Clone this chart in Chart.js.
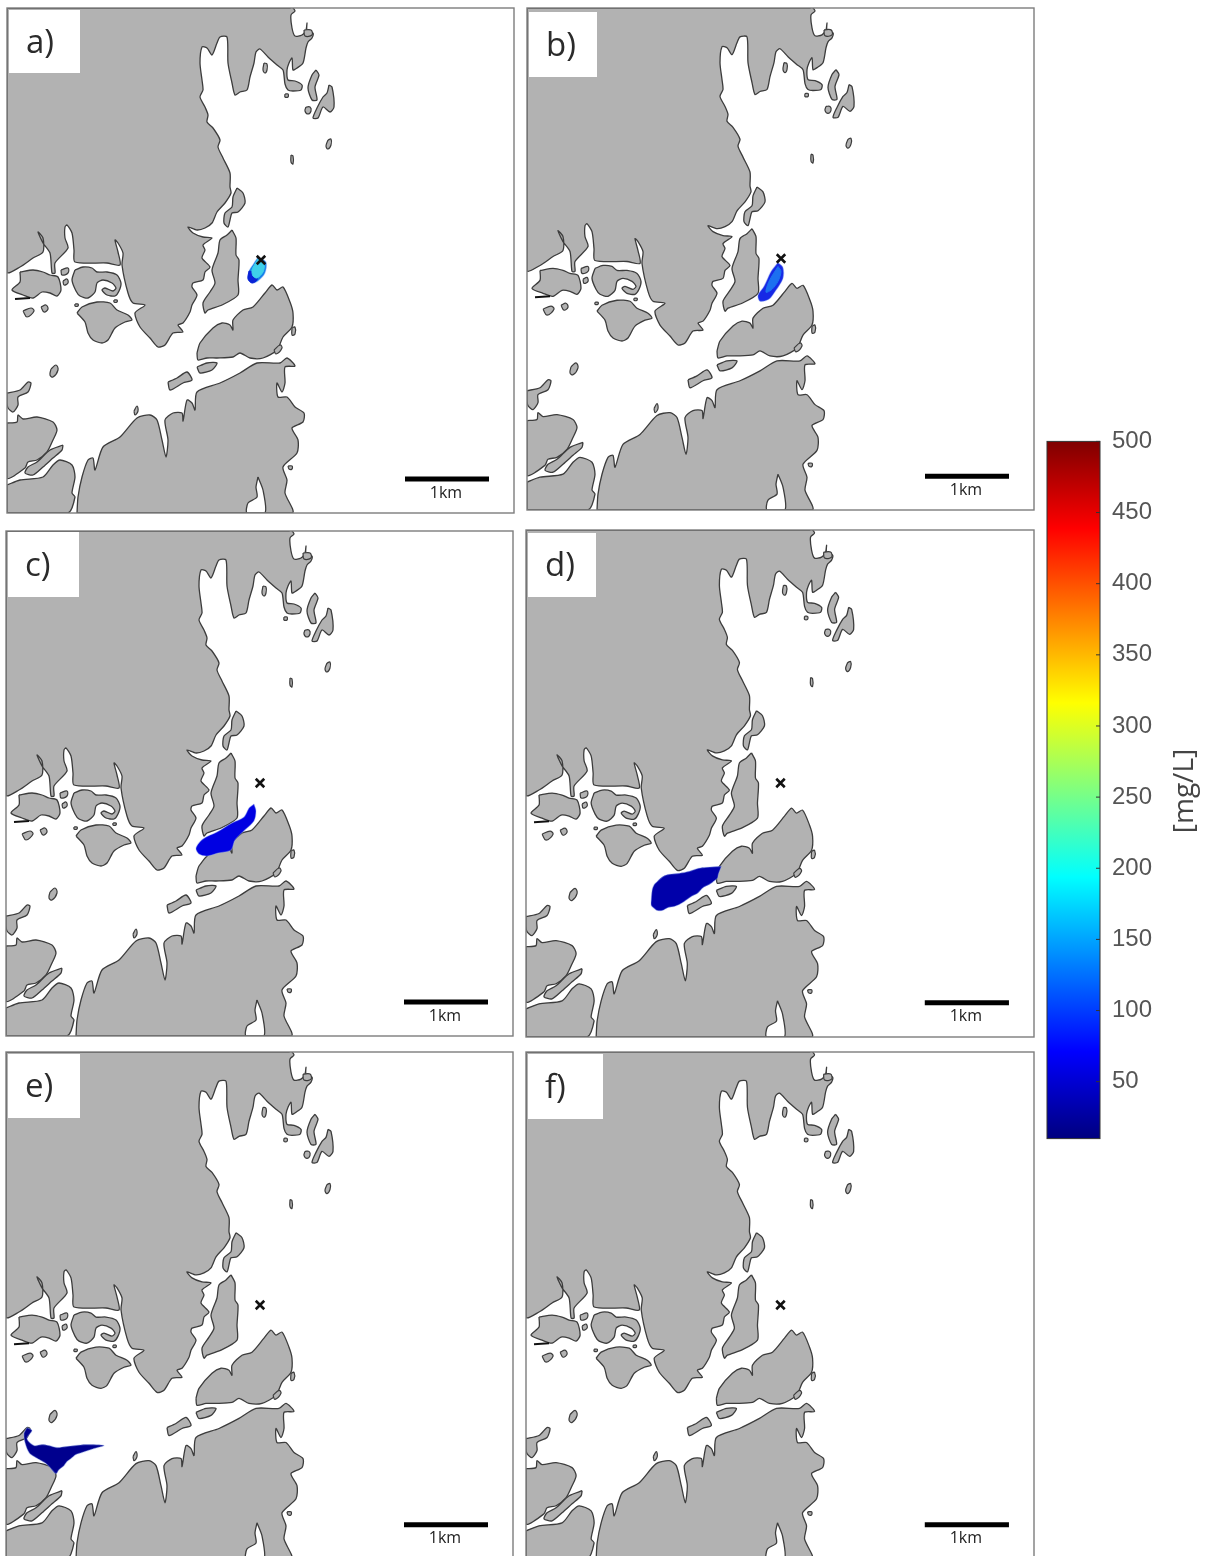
<!DOCTYPE html>
<html>
<head>
<meta charset="utf-8">
<title>Plume maps</title>
<script src="https://cdn.jsdelivr.net/npm/chart.js@4"></script>
<style>
  html, body { margin: 0; padding: 0; background: #fff; }
  body { position: relative; width: 1215px; height: 1556px; overflow: hidden; }
  canvas { position: absolute; }
</style>
</head>
<body>
<script>
// map outlines, in map grid units (same grid for all six panels)
var mainNorth = [[7,8],[290,8],[292,7],[295,11],[291,15],[292,28],[295,36],[302,35],[306,30],[307,23],[307,30],[313,33],[312,38],[308,42],[306,48],[303,63],[297,68],[293,70],[292,58],[289,63],[287,70],[288,80],[295,81],[302,85],[301,90],[293,91],[288,90],[285,84],[283,70],[277,65],[268,57],[260,49],[256,52],[254,63],[250,77],[247,90],[240,92],[235,95],[232,83],[228,63],[227,37],[220,37],[217,43],[212,55],[207,48],[202,47],[200,63],[202,80],[203,90],[200,97],[205,107],[208,115],[207,122],[213,128],[220,140],[218,147],[223,158],[230,173],[230,187],[231,193],[225,203],[217,212],[212,223],[205,228],[197,230],[188,227],[193,233],[203,237],[212,238],[203,245],[205,250],[202,258],[210,267],[205,272],[203,280],[193,283],[192,287],[197,295],[192,305],[190,312],[183,323],[178,325],[183,332],[173,333],[165,345],[158,347],[150,338],[140,327],[135,313],[145,305],[133,303],[128,293],[122,265],[123,253],[118,243],[115,240],[118,252],[120,265],[107,263],[75,262],[74,250],[72,233],[67,225],[65,227],[65,238],[68,248],[55,263],[55,273],[52,273],[50,253],[43,243],[38,232],[43,238],[43,252],[33,258],[20,267],[7,272]];
var islandEast = [[232,230],[236,238],[236,255],[239,260],[238,280],[238,295],[222,305],[208,310],[205,313],[203,303],[210,292],[215,283],[212,270],[218,253],[220,240],[227,235]];
var islandStrait = [[237,188],[243,193],[245,203],[238,212],[232,213],[230,220],[228,227],[224,223],[225,213],[232,207],[233,197]];
var islandBay = [[75,270],[83,267],[92,268],[97,272],[107,272],[117,275],[121,283],[119,291],[115,296],[107,295],[102,290],[105,288],[113,291],[116,288],[112,283],[103,280],[97,283],[95,292],[88,298],[80,296],[76,291],[72,280]];
var islandWest = [[20,272],[33,270],[43,272],[50,275],[58,277],[61,290],[57,296],[50,293],[42,292],[33,298],[23,295],[12,290],[20,282]];
var islandSouth = [[77,313],[82,307],[97,302],[110,303],[117,310],[128,315],[132,320],[125,322],[115,328],[108,340],[102,343],[93,340],[88,333],[85,322]];
var midLand = [[197,353],[200,343],[213,328],[222,323],[230,325],[233,330],[233,320],[243,310],[253,307],[265,293],[272,285],[277,290],[283,287],[290,302],[293,313],[292,327],[283,337],[277,350],[263,358],[250,358],[240,353],[233,357],[217,358],[207,358],[198,360]];
var isletA = [[197,367],[207,363],[217,363],[212,370],[200,373]];
var isletB = [[168,382],[177,378],[187,372],[192,380],[183,383],[170,390]];
var southLand = [[77,513],[78,497],[82,477],[88,460],[93,458],[95,470],[103,447],[120,437],[137,418],[150,415],[157,420],[162,440],[166,457],[168,440],[165,420],[173,413],[182,413],[183,421],[187,400],[192,403],[195,410],[197,392],[220,383],[240,373],[257,363],[280,363],[287,358],[295,366],[285,367],[285,383],[282,392],[277,383],[278,397],[287,397],[295,407],[304,413],[303,422],[292,428],[298,440],[297,453],[283,467],[287,480],[285,493],[292,513]];
var southInlet = [[258,477],[263,490],[265,513],[247,513],[248,503],[257,497],[256,487]];
var swIsland = [[7,393],[20,390],[28,382],[31,383],[28,392],[18,397],[18,405],[13,412],[8,408],[7,403]];
var swLand = [[7,423],[17,422],[18,415],[23,419],[37,417],[53,422],[57,430],[53,440],[47,452],[37,460],[28,462],[25,468],[7,478]];
var swLong = [[63,445],[62,450],[53,458],[43,467],[33,475],[25,473],[28,467],[37,462],[50,450]];
var swLower = [[7,485],[20,480],[43,477],[53,465],[60,460],[72,465],[75,477],[72,493],[75,497],[68,513],[7,513]];
var neIslandA = [[316,70],[319,75],[315,87],[317,100],[312,100],[308,88],[312,75]];
var neIslandB = [[329,85],[332,87],[334,107],[330,112],[323,107],[318,118],[313,118],[317,108],[323,97],[327,93]];
var tinyIslands = [
  [[306,107],[310,107],[311,111],[308,114],[305,111]],
  [[264,63],[267,64],[267,70],[265,73],[263,70]],
  [[285,94],[288,94],[288,97],[285,97]],
  [[328,140],[331,139],[331,145],[328,149],[326,146]],
  [[304,30],[311,30],[312,35],[305,36]],
  [[291,155],[293,156],[293,164],[291,162]],
  [[61,270],[68,268],[68,273],[62,275]],
  [[63,281],[67,279],[68,283],[64,285]],
  [[23,311],[31,308],[34,311],[27,317]],
  [[41,307],[46,305],[48,309],[44,312]],
  [[51,369],[56,365],[58,370],[53,377],[50,375]],
  [[134,411],[137,406],[138,411],[135,415]],
  [[274,350],[280,345],[282,348],[276,354]],
  [[292,328],[295,327],[295,334],[292,335]],
  [[288,466],[292,466],[292,469],[289,469]],
  [[75,304],[78,304],[78,306],[75,306]],
  [[114,300],[117,300],[117,302],[114,302]]
];
var darkMarks = [[15,299],[30,298]];

// plume outlines per panel, outermost first
var plumeA = [[258,257],[266,262],[265,273],[258,281],[252,283],[248,279],[249,271],[254,263]];
var plumeACore = [[249,271],[256,273],[257,280],[252,283],[248,279]];
var plumeAMid = [[258,259],[264,264],[263,272],[257,278],[253,276],[252,270],[255,264]];
var plumeB = [[258,264],[263,269],[263,280],[256,292],[249,301],[240,303],[238,297],[244,288],[251,273]];
var plumeBMid = [[258,268],[261,273],[258,283],[252,291],[246,294],[249,283]];
var plumeC = [[255,281],[257,288],[255,298],[247,306],[236,317],[232,327],[219,330],[208,333],[200,331],[197,325],[204,316],[218,309],[233,300],[245,294],[250,285]];
var plumeD = [[202,343],[199,351],[198,355],[193,359],[190,361],[184,364],[178,370],[172,373],[165,378],[160,381],[155,383],[149,384],[143,387],[138,387],[135,385],[132,382],[132,376],[133,366],[135,361],[138,358],[144,353],[150,351],[160,350],[170,348],[179,345],[187,344]];
var plumeE = [[28,382],[33,385],[28,393],[35,400],[43,399],[50,400],[58,402],[67,401],[76,400],[87,399],[105,400],[95,403],[83,407],[77,409],[72,413],[68,416],[65,420],[60,424],[57,428],[52,423],[47,418],[42,415],[35,411],[30,407],[26,397],[25,388]];

var sourcePoint = [261,260];
var scaleBar = [[405,479],[489,479]];
var scaleLabel = "1km";

var panelNames = ["a)", "b)", "c)", "d)", "e)", "f)"];
// left, top, width, height of each map frame on the page
var panelFrames = [[7,8,507,505],[527,8,507,502],[6,531,507,505],[526,530,508,507],[6,1052,507,507],[526,1052,508,507]];
// white label box: left, top, width, height, page coordinates
var labelBoxes = [[9,10,71,63],[529,12,68,65],[8,532,71,65],[528,533,68,64],[8,1054,72,64],[528,1054,75,65]];

var plumeLayers = [
  [[plumeA,"#1480ea"],[plumeACore,"#0a22d6"],[plumeAMid,"#3fd0ea"]],
  [[plumeB,"#1628e6"],[plumeBMid,"#1c70f0"]],
  [[plumeC,"#0000e2"]],
  [[plumeD,"#0000aa"]],
  [[plumeE,"#00008e"]],
  []
];

var colorbarTicks = [50,100,150,200,250,300,350,400,450,500];
var colorbarRange = [10,500];
var colorbarStops = [[0,"#7f0000"],[0.125,"#ff0000"],[0.375,"#ffff00"],[0.625,"#00ffff"],[0.875,"#0000ff"],[1,"#00007f"]];

var LAND = "#b2b2b2";
var COAST = "#3c3c3c";

function pts(arr) {
  return arr.map(function (p) { return { x: p[0], y: p[1] }; });
}

function closed(arr) {
  return pts(arr.concat([arr[0]]));
}

function shape(arr, fillColor, lineColor, lineW, bend) {
  return {
    data: closed(arr),
    showLine: true,
    fill: "shape",
    backgroundColor: fillColor,
    borderColor: lineColor,
    borderWidth: lineW,
    pointRadius: 0,
    tension: bend
  };
}

function mapDatasets(i) {
  var ds = [];
  var lands = [mainNorth, islandEast, islandStrait, islandBay, islandWest, islandSouth, midLand, isletA, isletB, southLand, swIsland, swLand, swLong, swLower, neIslandA, neIslandB];
  lands.forEach(function (l) { ds.push(shape(l, LAND, COAST, 1.3, 0.25)); });
  ds.push(shape(southInlet, "#ffffff", COAST, 1.3, 0.25));
  tinyIslands.forEach(function (l) { ds.push(shape(l, LAND, COAST, 1.2, 0.4)); });
  ds.push({ data: pts(darkMarks), showLine: true, borderColor: "#111", borderWidth: 2, pointRadius: 0 });
  plumeLayers[i].forEach(function (p, k) {
    // the outermost layer gets a pale edge, like the halo round the plume
    ds.push(shape(p[0], p[1], k == 0 ? "rgba(150,175,240,0.35)" : p[1], k == 0 ? 1.2 : 1, 0.3));
  });
  ds.push({ data: pts([sourcePoint]), pointStyle: "crossRot", pointRadius: 6, pointBorderColor: "#111", pointBorderWidth: 2.6, borderColor: "#111", showLine: false });
  ds.push({ data: pts(scaleBar), showLine: true, borderColor: "#000", borderWidth: 5, pointRadius: 0, borderCapStyle: "butt" });
  // chart.js paints the first dataset last, so land has to go at the end
  return ds.reverse();
}

var framePlugin = {
  id: "frame",
  afterDraw: function (chart, args, opts) {
    var c = chart.ctx, a = chart.chartArea, b = labelBoxes[opts.index], f = panelFrames[opts.index];
    c.save();
    c.strokeStyle = "#7d7d7d";
    c.lineWidth = 1.4;
    c.strokeRect(a.left, a.top, a.right - a.left, a.bottom - a.top);
    // label box sits in page coordinates, frame offset by the pad
    var ox = b[0] - f[0] + a.left, oy = b[1] - f[1] + a.top;
    c.fillStyle = "#fff";
    c.fillRect(ox, oy, b[2], b[3]);
    c.fillStyle = "#2b2b2b";
    c.font = "33px 'Open Sans'";
    c.textBaseline = "middle";
    c.fillText(panelNames[opts.index], ox + 17, oy + b[3] / 2 + 2);
    // km text below the bar
    var sx = chart.scales.x, sy = chart.scales.y;
    c.fillStyle = "#222";
    c.font = "16px 'Open Sans'";
    c.textAlign = "center";
    c.fillText(scaleLabel, sx.getPixelForValue((scaleBar[0][0] + scaleBar[1][0]) / 2) - 1, sy.getPixelForValue(scaleBar[0][1]) + 14);
    c.restore();
  }
};

var PAD = 2;
panelFrames.forEach(function (f, i) {
  var cv = document.createElement("canvas");
  cv.style.left = (f[0] - PAD) + "px";
  cv.style.top = (f[1] - PAD) + "px";
  cv.width = f[2] + PAD * 2;
  cv.height = f[3] + PAD * 2;
  cv.style.width = cv.width + "px";
  cv.style.height = cv.height + "px";
  document.body.appendChild(cv);
  new Chart(cv.getContext("2d"), {
    type: "scatter",
    data: { datasets: mapDatasets(i) },
    plugins: [framePlugin],
    options: {
      responsive: false,
      animation: false,
      layout: { padding: PAD, autoPadding: false },
      plugins: { legend: { display: false }, tooltip: { enabled: false }, frame: { index: i } },
      scales: {
        x: { type: "linear", min: 7, max: 514, display: false },
        y: { type: "linear", min: 8, max: 513, reverse: true, display: false }
      }
    }
  });
});

// colour bar
var cbPlugin = {
  id: "cbdeco",
  afterDatasetsDraw: function (chart) {
    var c = chart.ctx, a = chart.chartArea, sy = chart.scales.y;
    c.save();
    c.strokeStyle = "#333";
    c.lineWidth = 1;
    c.strokeRect(a.left, a.top, a.right - a.left, a.bottom - a.top);
    colorbarTicks.forEach(function (t) {
      var y = sy.getPixelForValue(t);
      c.beginPath();
      c.moveTo(a.right - 4, y);
      c.lineTo(a.right, y);
      c.stroke();
    });
    c.translate(145, 368);
    c.rotate(-Math.PI / 2);
    c.fillStyle = "#444";
    c.font = "28px 'Open Sans'";
    c.textAlign = "center";
    c.textBaseline = "middle";
    c.fillText("[mg/L]", 0, 0);
    c.restore();
  }
};

// tick labels reserve half their height above and below the plot, hence the taller canvas
var cb = document.createElement("canvas");
cb.style.left = "1040px";
cb.style.top = "423px";
cb.width = 175;
cb.height = 734;
cb.style.width = "175px";
cb.style.height = "734px";
document.body.appendChild(cb);
new Chart(cb.getContext("2d"), {
  type: "bar",
  data: {
    labels: [""],
    datasets: [{
      data: [colorbarRange],
      barPercentage: 1,
      categoryPercentage: 1,
      borderWidth: 0,
      backgroundColor: function (ctx) {
        var a = ctx.chart.chartArea;
        if (!a) return "#000";
        var g = ctx.chart.ctx.createLinearGradient(0, a.top, 0, a.bottom);
        colorbarStops.forEach(function (s) { g.addColorStop(s[0], s[1]); });
        return g;
      }
    }]
  },
  plugins: [cbPlugin],
  options: {
    responsive: false,
    animation: false,
    layout: { padding: { left: 7, top: 0, bottom: 0, right: 0 }, autoPadding: false },
    plugins: { legend: { display: false }, tooltip: { enabled: false } },
    scales: {
      x: { display: false },
      y: {
        position: "right",
        min: colorbarRange[0],
        max: colorbarRange[1],
        afterBuildTicks: function (s) {
          s.ticks = colorbarTicks.map(function (v) { return { value: v }; });
        },
        afterFit: function (s) { s.width = 115; },
        grid: { display: false },
        border: { display: false },
        ticks: {
          padding: 4,
          color: "#555",
          font: { family: "'Liberation Sans'", size: 24 },
          autoSkip: false
        }
      }
    }
  }
});
</script>
</body>
</html>
